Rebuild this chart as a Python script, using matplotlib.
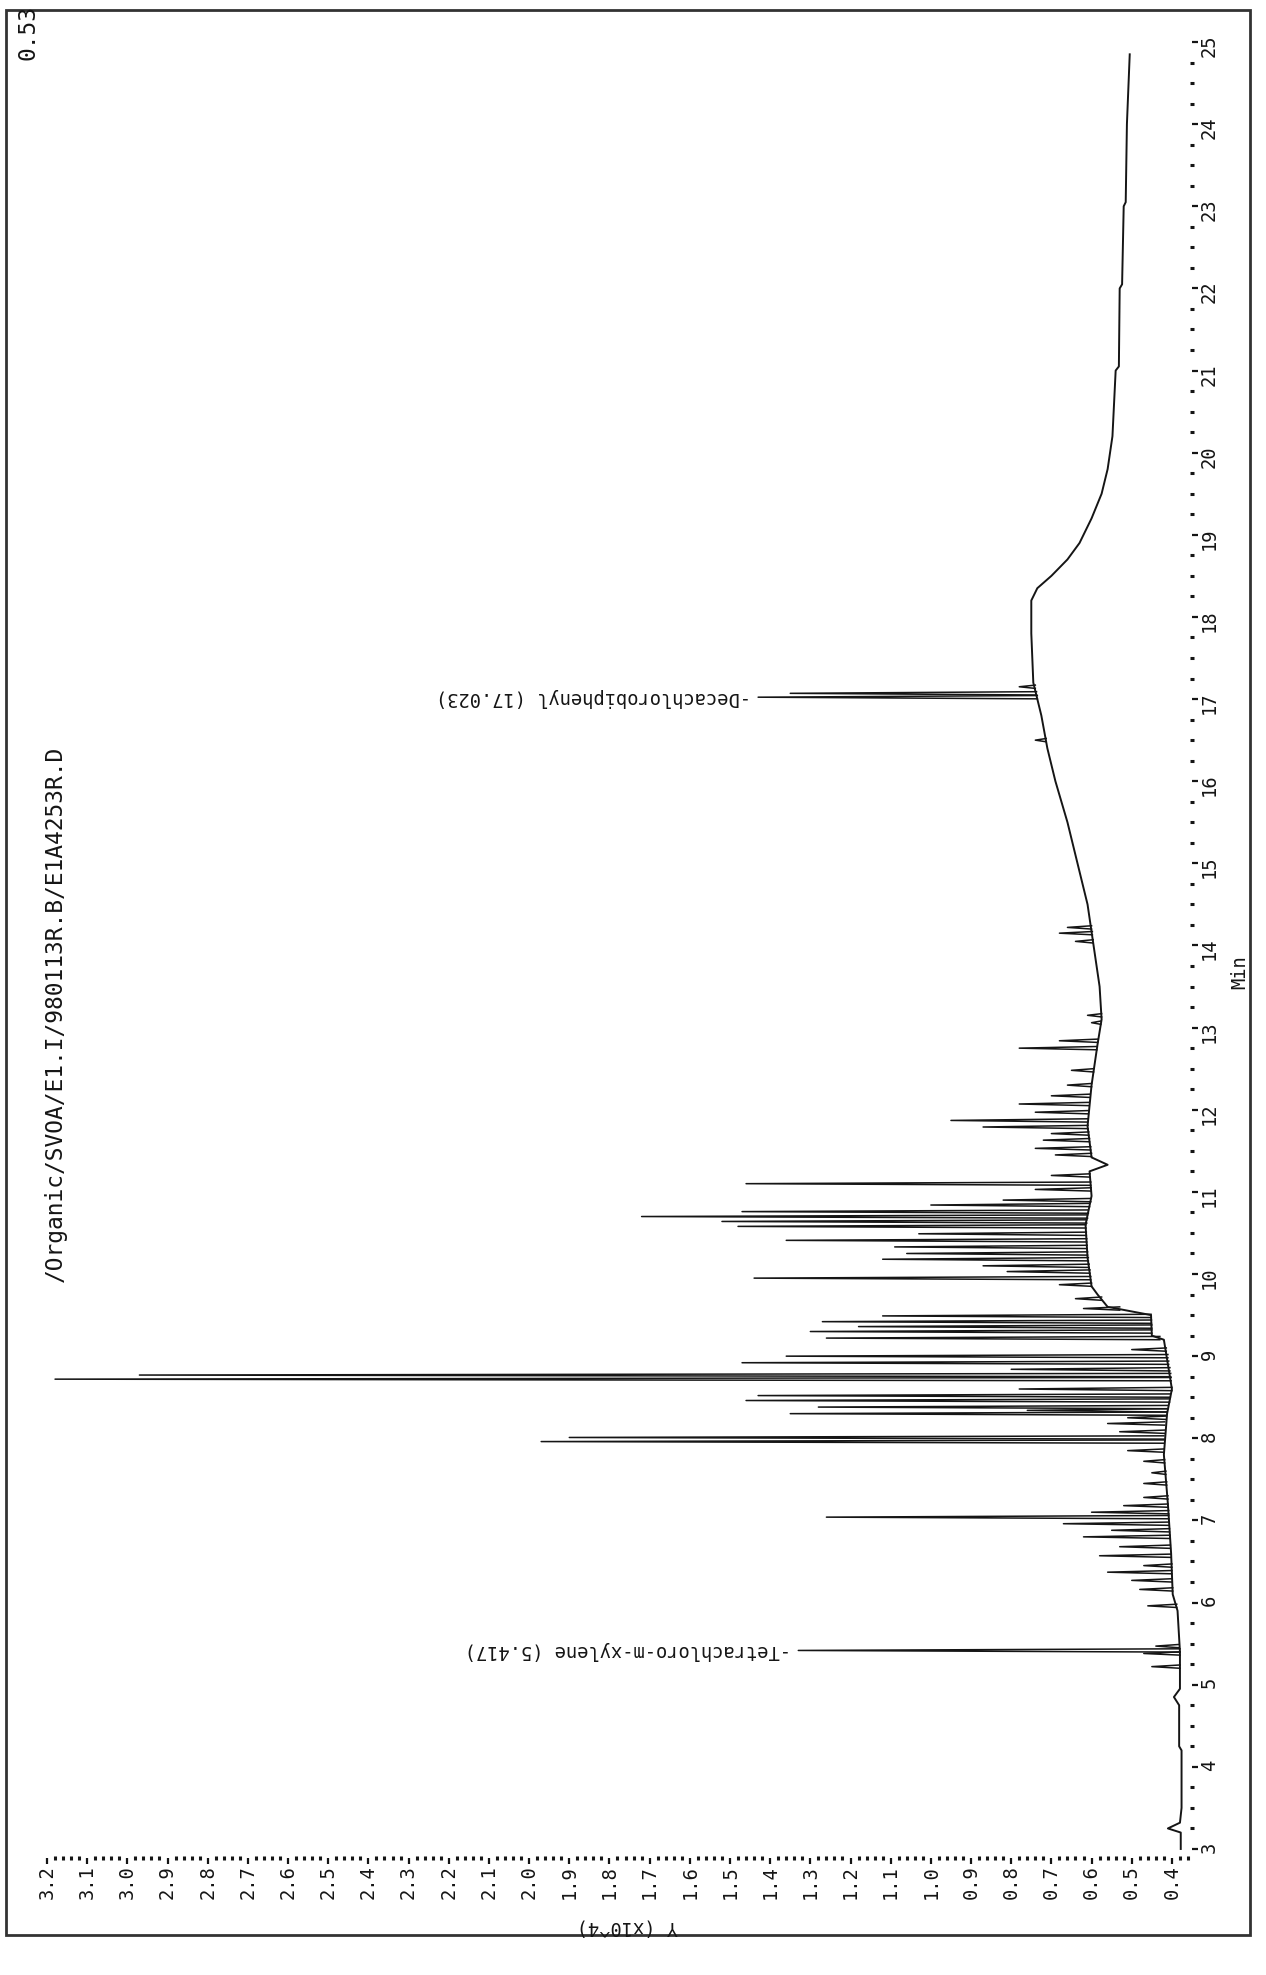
# Chromatogram (scanned page, printed sideways): time runs up the right side,
# signal grows to the left.

import matplotlib.pyplot as plt
from matplotlib.patches import Rectangle
from matplotlib.ticker import MultipleLocator

plt.rcParams['font.family'] = ['DejaVu Sans Mono', 'DejaVu Sans']

# Baseline of the trace: retention time (min) and signal (x10^4)
base_time = [3.00, 3.20, 3.25, 3.32, 3.50, 4.20, 4.25, 4.75, 4.85, 4.95, 5.40, 5.90, 6.10, 6.60,
             7.20, 7.80, 8.30, 8.60, 9.20, 9.25, 9.50, 9.60, 9.75, 9.85, 10.20, 10.60, 10.95,
             11.25, 11.33, 11.42, 11.80, 12.30, 12.80, 13.10, 13.50, 14.00, 14.50, 15.00, 15.50,
             16.00, 16.40, 16.80, 17.20, 17.80, 18.20, 18.35, 18.50, 18.70, 18.90, 19.20, 19.50,
             19.80, 20.20, 21.00, 21.05, 22.00, 22.05, 23.00, 23.05, 24.00, 24.85]
base_level = [0.378, 0.378, 0.410, 0.380, 0.376, 0.376, 0.382, 0.382, 0.395, 0.380, 0.380, 0.386,
              0.398, 0.402, 0.410, 0.420, 0.412, 0.400, 0.420, 0.450, 0.452, 0.560, 0.585, 0.600,
              0.610, 0.615, 0.600, 0.605, 0.560, 0.600, 0.610, 0.600, 0.585, 0.575, 0.580, 0.595,
              0.610, 0.635, 0.660, 0.690, 0.710, 0.725, 0.745, 0.750, 0.750, 0.735, 0.700, 0.660,
              0.630, 0.600, 0.575, 0.560, 0.548, 0.540, 0.532, 0.530, 0.524, 0.520, 0.515, 0.512,
              0.505]

# Peaks: apex time, level at the foot, apex level
peak_time = [5.22, 5.38, 5.417, 5.47, 5.96, 6.16, 6.27, 6.37, 6.45, 6.57, 6.68, 6.80, 6.88, 6.96,
             7.04, 7.10, 7.18, 7.28, 7.45, 7.58, 7.72, 7.85, 7.96, 8.01, 8.08, 8.18, 8.25, 8.30,
             8.34, 8.38, 8.46, 8.52, 8.60, 8.72, 8.77, 8.84, 8.92, 9.00, 9.08, 9.22, 9.30, 9.36,
             9.42, 9.49, 9.58, 9.70, 9.87, 9.95, 10.03, 10.10, 10.18, 10.25, 10.33, 10.41, 10.49,
             10.58, 10.64, 10.70, 10.76, 10.84, 10.90, 11.03, 11.10, 11.20, 11.45, 11.53, 11.63,
             11.71, 11.79, 11.87, 11.97, 12.07, 12.17, 12.30, 12.48, 12.75, 12.84, 13.06, 13.15,
             14.05, 14.15, 14.22, 16.50, 17.023, 17.07, 17.15]
peak_base = [0.380, 0.380, 0.380, 0.382, 0.388, 0.398, 0.400, 0.400, 0.400, 0.402, 0.404, 0.405,
             0.406, 0.407, 0.408, 0.408, 0.410, 0.410, 0.413, 0.415, 0.418, 0.420, 0.420, 0.420,
             0.419, 0.418, 0.416, 0.414, 0.412, 0.410, 0.406, 0.404, 0.400, 0.402, 0.403, 0.405,
             0.408, 0.410, 0.414, 0.430, 0.450, 0.450, 0.451, 0.452, 0.530, 0.575, 0.600, 0.602,
             0.604, 0.606, 0.608, 0.610, 0.611, 0.612, 0.613, 0.614, 0.612, 0.610, 0.608, 0.605,
             0.602, 0.601, 0.602, 0.604, 0.600, 0.602, 0.605, 0.607, 0.609, 0.610, 0.608, 0.606,
             0.604, 0.600, 0.595, 0.587, 0.585, 0.577, 0.575, 0.596, 0.598, 0.600, 0.713, 0.735,
             0.737, 0.740]
peak_top = [0.45, 0.47, 1.33, 0.44, 0.46, 0.48, 0.50, 0.56, 0.47, 0.58, 0.53, 0.62, 0.55, 0.67,
            1.26, 0.60, 0.52, 0.47, 0.47, 0.45, 0.47, 0.51, 1.97, 1.90, 0.53, 0.56, 0.51, 1.35,
            0.76, 1.28, 1.46, 1.43, 0.78, 3.18, 2.97, 0.80, 1.47, 1.36, 0.50, 1.26, 1.30, 1.18,
            1.27, 1.12, 0.62, 0.64, 0.68, 1.44, 0.81, 0.87, 1.12, 1.06, 1.09, 1.36, 1.03, 1.48,
            1.52, 1.72, 1.47, 1.00, 0.82, 0.74, 1.46, 0.70, 0.69, 0.74, 0.72, 0.70, 0.87, 0.95,
            0.74, 0.78, 0.70, 0.66, 0.65, 0.78, 0.68, 0.60, 0.61, 0.64, 0.68, 0.66, 0.74, 1.43,
            1.35, 0.78]

# Named compounds
label_time = [5.417, 17.023]
label_top = [1.33, 1.43]
label_text = ['-Tetrachloro-m-xylene (5.417)', '-Decachlorobiphenyl (17.023)']

# Axis ticks
signal_ticks = [0.4, 0.5, 0.6, 0.7, 0.8, 0.9, 1.0, 1.1, 1.2, 1.3, 1.4, 1.5, 1.6, 1.7, 1.8,
                1.9, 2.0, 2.1, 2.2, 2.3, 2.4, 2.5, 2.6, 2.7, 2.8, 2.9, 3.0, 3.1, 3.2]
signal_labels = ['0.4', '0.5', '0.6', '0.7', '0.8', '0.9', '1.0', '1.1', '1.2', '1.3', '1.4',
                 '1.5', '1.6', '1.7', '1.8', '1.9', '2.0', '2.1', '2.2', '2.3', '2.4', '2.5',
                 '2.6', '2.7', '2.8', '2.9', '3.0', '3.1', '3.2']
time_ticks = [3, 4, 5, 6, 7, 8, 9, 10, 11, 12, 13, 14, 15, 16, 17, 18, 19, 20, 21, 22, 23, 24, 25]
time_labels = ['3', '4', '5', '6', '7', '8', '9', '10', '11', '12', '13', '14', '15', '16',
               '17', '18', '19', '20', '21', '22', '23', '24', '25']

ink = '#151515'
W, H = 1266, 1975

fig = plt.figure(figsize=(W / 100, H / 100), dpi=100)
ax = fig.add_axes([47 / W, 1 - 1858 / H, (1192 - 47) / W, (1858 - 42) / H])

ax.plot(base_level, base_time, color=ink, lw=1.4)
w = 0.02
for t, b, h in zip(peak_time, peak_base, peak_top):
    ax.plot([b, h, b], [t - w, t, t + w], color=ink, lw=1.1)

for t, h, s in zip(label_time, label_top, label_text):
    ax.annotate(s, xy=(h, t), xytext=(-5, 0), textcoords='offset points',
                rotation=180, ha='right', va='center', fontsize=13.5, color=ink)

ax.set_xlim(3.2, 0.35)
ax.set_ylim(2.89, 25.0)

for sp in ax.spines.values():
    sp.set_visible(False)

ax.set_xticks(signal_ticks)
ax.set_xticklabels(signal_labels)
ax.set_yticks(time_ticks)
ax.set_yticklabels(time_labels)
ax.xaxis.set_minor_locator(MultipleLocator(0.02))
ax.yaxis.set_minor_locator(MultipleLocator(0.25))
ax.yaxis.tick_right()

ax.tick_params(axis='both', which='major', direction='out', length=4, width=1.6,
               pad=1.5, labelsize=13.5, colors=ink, labelrotation=90)
ax.tick_params(axis='both', which='minor', direction='inout', length=2.2, width=2.2, colors=ink)

fig.text(627 / W, 1 - 1927 / H, 'Y (x10^4)', rotation=180, ha='center', va='center',
         fontsize=13.5, color=ink)
fig.text(1240 / W, 1 - 972 / H, 'Min', rotation=90, ha='center', va='center',
         fontsize=13.5, color=ink)

# page header
fig.text(55 / W, 1 - 1014 / H, '/Organic/SVOA/E1.I/980113R.B/E1A4253R.D', rotation=90,
         ha='center', va='center', fontsize=16.5, color=ink)
fig.text(28 / W, 1 - 60 / H, '0.53', rotation=90, ha='center', va='bottom',
         fontsize=16.5, color=ink)

# page border
fig.add_artist(Rectangle((6 / W, 1 - 1935 / H), (1250 - 6) / W, (1935 - 10) / H,
                         transform=fig.transFigure, fill=False, lw=2, ec='#333333'))

fig.savefig('out.png', dpi=100)
